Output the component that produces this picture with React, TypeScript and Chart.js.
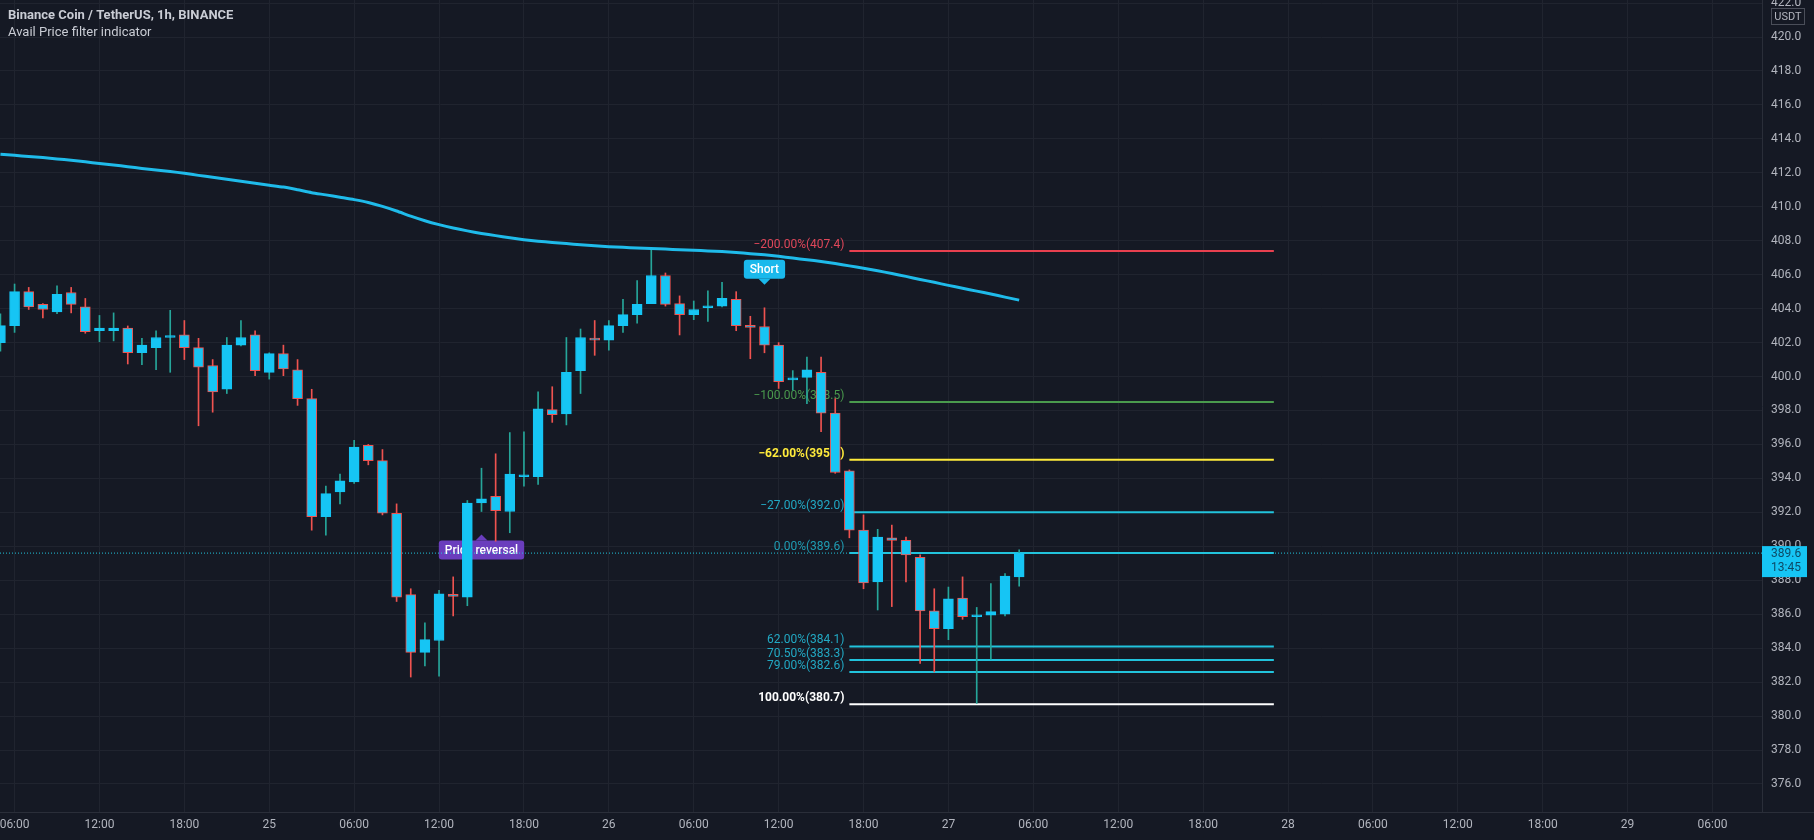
import React, { useEffect, useRef } from 'react';
import { Chart, registerables } from 'chart.js';

Chart.register(...registerables);

// ---------- data (1h candles, BNB/USDT) ----------
// hour index: 0 = 24th 06:00, first candle at index -1
const firstHour = -1;
const opens = [
  402.0, 403.0, 405.0, 404.25, 403.8, 404.95, 404.1, 402.7, 402.7, 402.85,
  401.4, 401.7, 402.3, 402.45, 401.7, 400.65, 399.25, 401.85, 402.45, 400.25,
  401.35, 400.4, 398.7, 391.75, 393.2, 393.8, 395.95, 395.05, 391.95, 387.15,
  383.75, 384.45, 387.15, 387.0, 392.55, 392.95, 392.05, 394.1, 394.1, 398.05,
  397.8, 400.35, 402.25, 402.15, 403.0, 403.65, 404.3, 405.95, 404.3, 403.65,
  404.05, 404.15, 404.55, 402.95, 402.95, 401.85, 399.8, 399.95, 400.25, 397.85,
  394.45, 390.95, 387.9, 390.5, 390.35, 389.35, 386.2, 385.15, 386.95, 385.85,
  385.95, 386.0, 388.2,
];
const highs = [
  403.7, 405.45, 405.25, 404.3, 405.35, 405.25, 404.6, 403.6, 403.75, 402.98,
  402.25, 402.7, 403.9, 403.3, 402.25, 401.0, 402.3, 403.3, 402.7, 401.4,
  401.85, 401.0, 399.25, 393.55, 394.25, 396.25, 396.0, 395.7, 392.5, 387.5,
  385.5, 387.4, 388.2, 392.7, 394.6, 395.45, 396.7, 396.75, 399.1, 399.4,
  402.3, 402.8, 403.3, 403.3, 404.55, 405.65, 407.45, 406.1, 404.75, 404.45,
  405.05, 405.55, 405.0, 403.55, 404.05, 402.0, 400.35, 401.15, 401.15, 398.7,
  394.5, 391.85, 391.0, 391.25, 390.55, 389.5, 387.5, 387.6, 388.2, 386.4,
  387.8, 388.4, 389.8,
];
const lows = [
  401.5, 402.6, 403.95, 403.45, 403.7, 403.75, 402.55, 402.05, 402.1, 400.74,
  400.7, 400.4, 400.25, 401.0, 397.1, 397.9, 399.0, 401.8, 400.05, 399.85,
  400.05, 398.3, 390.95, 390.65, 392.5, 393.7, 394.8, 391.85, 386.75, 382.3,
  382.95, 382.35, 385.9, 386.5, 392.05, 390.3, 390.8, 393.55, 393.65, 397.3,
  397.15, 399.0, 401.25, 401.55, 402.6, 403.15, 404.3, 404.15, 402.45, 403.35,
  403.25, 404.1, 402.7, 401.05, 401.4, 399.3, 399.2, 398.4, 396.75, 394.3,
  390.5, 387.5, 386.25, 386.45, 387.9, 383.1, 382.6, 384.5, 385.7, 380.75,
  383.35, 385.9, 387.65,
];
const closes = [
  403.0, 405.0, 404.1, 403.95, 404.85, 404.25, 402.65, 402.85, 402.85, 401.4,
  401.85, 402.3, 402.32, 401.7, 400.55, 399.1, 401.85, 402.3, 400.35, 401.35,
  400.45, 398.7, 391.75, 393.1, 393.85, 395.85, 395.05, 391.95, 387.0, 383.75,
  384.5, 387.2, 387.05, 392.55, 392.8, 392.1, 394.25, 394.15, 398.1, 397.75,
  400.25, 402.3, 402.15, 403.0, 403.65, 404.25, 405.95, 404.25, 403.65, 403.95,
  404.1, 404.6, 403.0, 402.9, 401.85, 399.7, 399.85, 400.4, 397.85, 394.35,
  390.95, 387.85, 390.55, 390.35, 389.5, 386.2, 385.15, 386.9, 385.85, 385.9,
  386.15, 388.25, 389.6,
];
// moving average (price filter)
const maValues = [
  413.10, 413.03, 412.96, 412.90, 412.82, 412.74, 412.65, 412.55, 412.46, 412.36,
  412.26, 412.17, 412.08, 411.97, 411.85, 411.74, 411.62, 411.50, 411.38, 411.27,
  411.16, 411.00, 410.83, 410.70, 410.56, 410.42, 410.25, 410.02, 409.75, 409.45,
  409.18, 408.95, 408.75, 408.58, 408.43, 408.30, 408.17, 408.06, 407.97, 407.90,
  407.83, 407.76, 407.70, 407.65, 407.61, 407.57, 407.54, 407.51, 407.47, 407.44,
  407.40, 407.36, 407.31, 407.24, 407.17, 407.08, 406.98, 406.88, 406.78, 406.66,
  406.52, 406.38, 406.23, 406.07, 405.90, 405.72, 405.55, 405.37, 405.20, 405.03,
  404.86, 404.68, 404.50,
];

const xTickHours = [0, 6, 12, 18, 24, 30, 36, 42, 48, 54, 60, 66, 72, 78, 84, 90, 96, 102, 108, 114, 120];
const xTickLabels = ['06:00', '12:00', '18:00', '25', '06:00', '12:00', '18:00', '26', '06:00', '12:00', '18:00', '27', '06:00', '12:00', '18:00', '28', '06:00', '12:00', '18:00', '29', '06:00'];
const yTicks = [376, 378, 380, 382, 384, 386, 388, 390, 392, 394, 396, 398, 400, 402, 404, 406, 408, 410, 412, 414, 416, 418, 420, 422];
const xMin = -1.03;
const xMax = 123.5;
const yMin = 374.35;
const yMax = 422.18;

const fibPrices = [407.4, 398.5, 395.1, 392.0, 389.6, 384.1, 383.3, 382.6, 380.7];
const fibLabels = ['−200.00%(407.4)', '−100.00%(398.5)', '−62.00%(395.1)', '−27.00%(392.0)', '0.00%(389.6)', '62.00%(384.1)', '70.50%(383.3)', '79.00%(382.6)', '100.00%(380.7)'];
const fibLineColors = ['#e8404f', '#4a9a4d', '#ffeb3b', '#22c3dc', '#22c3dc', '#22c3dc', '#22c3dc', '#22c3dc', '#ffffff'];
const fibTextColors = ['#e0475a', '#4a9a4d', '#ffeb3b', '#22a9c4', '#1f9db3', '#22a9c4', '#22a9c4', '#22a9c4', '#ffffff'];
const fibBold = [false, false, true, false, false, false, false, false, true];
const fibStartHour = 59;
const fibEndHour = 89;

const lastPrice = 389.6;
const countdown = '13:45';
const shortSignalHours = [53];
const reversalSignalHours = [33];

const titleText = 'Binance Coin / TetherUS, 1h, BINANCE';
const subtitleText = 'Avail Price filter indicator';

// ---------- styles ----------
const BG = '#151924';
const GRID = '#20242f';
const AXIS_LINE = '#2a2e39';
const TEXT = '#b2b5be';
const BODY = '#16c5f4';
const UP = '#26a69a';
const DOWN = '#ef5350';
const MA_COLOR = '#1fbbea';
const FONT = 'Roboto';

const overlayPlugin = {
  id: 'overlay',
  beforeDraw(chart: any) {
    const ctx = chart.ctx;
    ctx.save();
    ctx.fillStyle = BG;
    ctx.fillRect(0, 0, chart.width, chart.height);
    ctx.restore();
  },
  beforeDatasetsDraw(chart: any) {
    const ctx = chart.ctx;
    const xs = chart.scales.x;
    const ys = chart.scales.y;
    ctx.save();
    // fib labels
    const lx = xs.getPixelForValue(fibStartHour) - 5;
    ctx.textAlign = 'right';
    ctx.textBaseline = 'alphabetic';
    fibPrices.forEach((p, i) => {
      const y = ys.getPixelForValue(p);
      ctx.font = (fibBold[i] ? 'bold ' : '') + '12px ' + FONT;
      ctx.fillStyle = fibTextColors[i];
      ctx.fillText(fibLabels[i], lx, y - 3);
    });
    // signal labels
    const idx = (h: number) => h - firstHour;
    const drawLabel = (text: string, cx: number, tipY: number, down: boolean, fill: string) => {
      ctx.font = '500 12px ' + FONT;
      const w = ctx.measureText(text).width + 12;
      const h = 19;
      const arrow = 6;
      let top: number;
      if (down) top = tipY - arrow - h; else top = tipY + arrow;
      ctx.fillStyle = fill;
      ctx.beginPath();
      (ctx as any).roundRect(cx - w / 2, top, w, h, 3);
      ctx.fill();
      ctx.beginPath();
      if (down) {
        ctx.moveTo(cx - 6, top + h);
        ctx.lineTo(cx + 6, top + h);
        ctx.lineTo(cx, tipY);
      } else {
        ctx.moveTo(cx - 6, top);
        ctx.lineTo(cx + 6, top);
        ctx.lineTo(cx, tipY);
      }
      ctx.closePath();
      ctx.fill();
      ctx.fillStyle = '#ffffff';
      ctx.textAlign = 'center';
      ctx.textBaseline = 'middle';
      ctx.fillText(text, cx, top + h / 2 + 0.5);
    };
    shortSignalHours.forEach((hr) => {
      const cx = xs.getPixelForValue(hr);
      const tip = ys.getPixelForValue(highs[idx(hr)]) - 23;
      drawLabel('Short', cx, tip, true, '#1ab9ec');
    });
    reversalSignalHours.forEach((hr) => {
      const cx = xs.getPixelForValue(hr);
      const tip = ys.getPixelForValue(lows[idx(hr)]) + 23;
      drawLabel('Price reversal', cx, tip, false, '#6a3dbd');
    });
    ctx.restore();
  },
  afterDraw(chart: any) {
    const ctx = chart.ctx;
    const ys = chart.scales.y;
    const area = chart.chartArea;
    ctx.save();
    // bottom axis line across whole width
    ctx.strokeStyle = AXIS_LINE;
    ctx.lineWidth = 1;
    ctx.beginPath();
    ctx.moveTo(0, area.bottom + 0.5);
    ctx.lineTo(chart.width, area.bottom + 0.5);
    ctx.stroke();
    // title
    ctx.textAlign = 'left';
    ctx.textBaseline = 'middle';
    ctx.fillStyle = '#c9ccd4';
    ctx.font = 'bold 13px ' + FONT;
    ctx.fillText(titleText, 8, 16);
    ctx.font = '13px ' + FONT;
    ctx.fillText(subtitleText, 8, 33);
    // USDT box
    const bx = area.right + 9;
    ctx.fillStyle = BG;
    ctx.fillRect(bx, 8, 34, 17);
    ctx.strokeStyle = '#4a4e59';
    ctx.strokeRect(bx + 0.5, 8.5, 33, 16);
    ctx.fillStyle = TEXT;
    ctx.font = '11px ' + FONT;
    ctx.textAlign = 'center';
    ctx.fillText('USDT', bx + 17, 17);
    // last price box
    const py = ys.getPixelForValue(lastPrice);
    ctx.fillStyle = BODY;
    ctx.fillRect(area.right, py - 7, 45, 31);
    ctx.fillStyle = '#0d4a66';
    ctx.font = '12px ' + FONT;
    ctx.textAlign = 'left';
    ctx.fillText(lastPrice.toFixed(1), area.right + 9, py + 1);
    ctx.fillText(countdown, area.right + 9, py + 15);
    ctx.restore();
  },
};

export default function App() {
  const ref = useRef<HTMLCanvasElement>(null);
  useEffect(() => {
    const canvas = ref.current;
    if (!canvas) return;
    const hours = opens.map((_, i) => firstHour + i);
    const up = opens.map((o, i) => closes[i] >= o);
    const bodyData = hours.map((h, i) => ({ x: h, y: [opens[i], closes[i]] }));
    const wickData = hours.map((h, i) => ({ x: h, y: [lows[i], highs[i]] }));
    const maData = hours.map((h, i) => ({ x: h, y: maValues[i] }));

    const fibDatasets = fibPrices.map((p, i) => ({
      type: 'line' as const,
      data: [{ x: fibStartHour, y: p }, { x: fibEndHour, y: p }],
      borderColor: fibLineColors[i],
      borderWidth: 2,
      pointRadius: 0,
      order: 5,
    }));

    const chart = new Chart(canvas, {
      type: 'bar',
      data: {
        datasets: [
          {
            type: 'line',
            data: [{ x: xMin, y: lastPrice }, { x: xMax, y: lastPrice }],
            borderColor: '#22c3dc',
            borderWidth: 1,
            borderDash: [1, 2],
            pointRadius: 0,
            order: 6,
          } as any,
          ...fibDatasets,
          {
            type: 'bar',
            data: wickData,
            backgroundColor: up.map((u) => (u ? UP : DOWN)),
            borderWidth: 0,
            barThickness: 1,
            grouped: false,
            order: 3,
          } as any,
          {
            type: 'bar',
            data: bodyData,
            backgroundColor: BODY,
            borderColor: up.map((u) => (u ? BODY : DOWN)),
            borderWidth: 1,
            borderSkipped: false,
            barThickness: 10,
            minBarLength: 2,
            grouped: false,
            order: 2,
          } as any,
          {
            type: 'line',
            data: maData,
            borderColor: MA_COLOR,
            borderWidth: 3,
            pointRadius: 0,
            tension: 0.2,
            order: 1,
          } as any,
        ],
      },
      options: {
        responsive: false,
        animation: false,
        devicePixelRatio: 1,
        layout: { padding: 0 },
        plugins: { legend: { display: false }, tooltip: { enabled: false } },
        scales: {
          x: {
            type: 'linear',
            min: xMin,
            max: xMax,
            offset: false,
            grid: { color: GRID, drawTicks: false, offset: false },
            border: { color: AXIS_LINE },
            ticks: {
              color: TEXT,
              font: { family: FONT, size: 12 },
              padding: 6,
              maxRotation: 0,
              autoSkip: false,
              callback: (_v: any, i: number) => xTickLabels[i],
            },
            afterBuildTicks: (s: any) => {
              s.ticks = xTickHours.map((v) => ({ value: v }));
            },
            afterFit: (s: any) => {
              s.height = 28;
              s.paddingLeft = 0;
              s.paddingRight = 0;
              s.paddingTop = 0;
              s.paddingBottom = 0;
            },
          } as any,
          y: {
            type: 'linear',
            position: 'right',
            min: yMin,
            max: yMax,
            beginAtZero: false,
            grid: { color: GRID, drawTicks: false },
            border: { color: AXIS_LINE },
            ticks: {
              color: TEXT,
              font: { family: FONT, size: 12 },
              padding: 9,
              callback: (v: any) => Number(v).toFixed(1),
            },
            afterBuildTicks: (s: any) => {
              s.ticks = yTicks.map((v) => ({ value: v }));
            },
            afterFit: (s: any) => {
              s.width = 52;
              s.paddingLeft = 0;
              s.paddingRight = 0;
              s.paddingTop = 0;
              s.paddingBottom = 0;
            },
          } as any,
        },
      },
      plugins: [overlayPlugin],
    });
    return () => chart.destroy();
  }, []);

  return (
    <div style={{ position: 'fixed', left: 0, top: 0, width: 1814, height: 840, background: BG }}>
      <canvas ref={ref} width={1814} height={840} style={{ display: 'block', width: 1814, height: 840 }} />
    </div>
  );
}
